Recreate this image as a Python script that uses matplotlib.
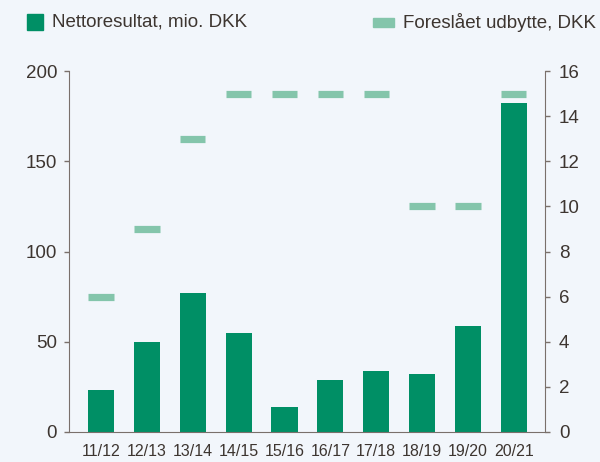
import matplotlib.pyplot as plt
import numpy as np
from matplotlib.patches import Rectangle

plt.rcParams['font.family'] = ['Liberation Sans', 'DejaVu Sans']

years = ["11/12", "12/13", "13/14", "14/15", "15/16", "16/17", "17/18", "18/19", "19/20", "20/21"]
netto = [23, 50, 77, 55, 14, 29, 34, 32, 59, 182]
udbytte = [6, 9, 13, 15, 15, 15, 15, 10, 10, 15]

bg = "#f2f6fb"
bar_col = "#008f65"
dash_col = "#84c5ab"
txt = "#3d3530"
spine = "#7a706b"

fig = plt.figure(figsize=(6, 4.62), dpi=100, facecolor=bg)
ax = fig.add_axes([69 / 600, 30 / 462, 476 / 600, 361 / 462], facecolor=bg)
ax2 = ax.twinx()

x = np.arange(len(years))
ax.bar(x, netto, width=0.57, color=bar_col, zorder=2)
ax2.hlines(udbytte, x - 0.275, x + 0.275, colors=dash_col, lw=5.2, zorder=3)

ax.set_xlim(-0.7, 9.68)
ax.set_ylim(0, 200)
ax2.set_ylim(0, 16)
ax.set_yticks([0, 50, 100, 150, 200])
ax2.set_yticks(range(0, 17, 2))
ax.set_xticks(x)
ax.set_xticklabels(years)

for a in (ax, ax2):
    for s in a.spines.values():
        s.set_visible(False)
    a.tick_params(colors=spine, labelcolor=txt, labelsize=13.5, width=1, length=3.5)
ax.tick_params(axis='y', pad=5)
ax2.tick_params(axis='y', pad=6.5)
ax.spines['left'].set_visible(True)
ax.spines['left'].set_color(spine)
ax.spines['bottom'].set_visible(True)
ax.spines['bottom'].set_color(spine)
ax2.spines['right'].set_visible(True)
ax2.spines['right'].set_color(spine)
ax.tick_params(axis='x', length=0, labelsize=11.5, pad=9)

# legend
fig.patches.append(Rectangle((27 / 600, 1 - 30 / 462), 16 / 600, 16 / 462,
                             transform=fig.transFigure, color=bar_col))
fig.text(52 / 600, 1 - 22 / 462, "Nettoresultat, mio. DKK", color=txt,
         fontsize=13.5, va='center')
fig.patches.append(Rectangle((373 / 600, 1 - 27 / 462), 21 / 600, 9 / 462,
                             transform=fig.transFigure, color=dash_col))
fig.text(403 / 600, 1 - 22 / 462, "Foreslået udbytte, DKK", color=txt,
         fontsize=13.5, va='center')

fig.savefig("out.png", dpi=100, facecolor=bg)
